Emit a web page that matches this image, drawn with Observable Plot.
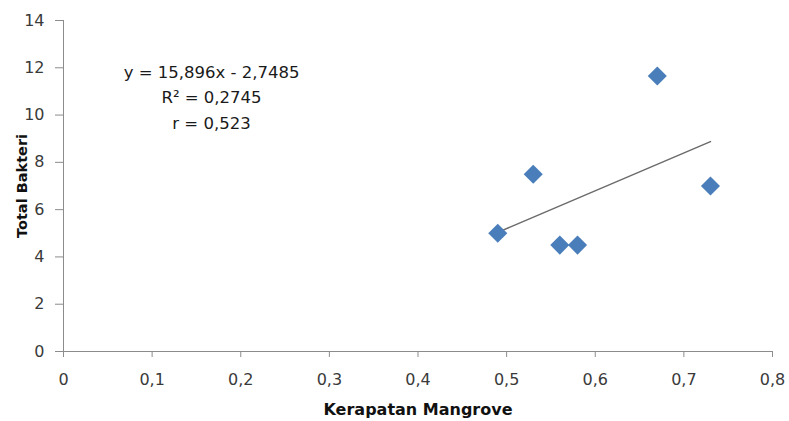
<!DOCTYPE html>
<html><head><meta charset="utf-8">
<script src="https://cdn.jsdelivr.net/npm/d3@7"></script>
<script src="https://cdn.jsdelivr.net/npm/@observablehq/plot@0.6"></script>
<style>
body{margin:0;background:#fff;}
#chart svg{display:block;}
</style>
</head><body><div id="chart"></div>
<script>
const kerapatan = [0.49, 0.53, 0.56, 0.58, 0.67, 0.73];
const totalBakteri = [5.0, 7.5, 4.5, 4.5, 11.65, 7.0];
const xTicks = [0, 0.1, 0.2, 0.3, 0.4, 0.5, 0.6, 0.7, 0.8];
const xTickLabels = ["0", "0,1", "0,2", "0,3", "0,4", "0,5", "0,6", "0,7", "0,8"];
const yTicks = [0, 2, 4, 6, 8, 10, 12, 14];
const yTickLabels = ["0", "2", "4", "6", "8", "10", "12", "14"];
const equationLines = ["y = 15,896x - 2,7485", "R² = 0,2745", "r = 0,523"];
const equationAt = {x: 0.167, y: 10.83};
const xTitle = "Kerapatan Mangrove";
const yTitle = "Total Bakteri";

const data = kerapatan.map((x, i) => ({x, y: totalBakteri[i]}));
const xFmt = d => xTickLabels[xTicks.indexOf(d)];
const yFmt = d => yTickLabels[yTicks.indexOf(d)];

const axisColor = "#8c8c8c";
const textColor = "#3a3a3a";
const font = "DejaVu Sans, sans-serif";

const chart = Plot.plot({
  width: 789,
  height: 421,
  marginLeft: 63,
  marginRight: 17,
  marginTop: 20,
  marginBottom: 70,
  style: {fontFamily: font, fontSize: "16px", color: textColor, background: "#fff"},
  x: {domain: [0, 0.8]},
  y: {domain: [0, 14]},
  marks: [
    Plot.axisX({ticks: xTicks, tickFormat: xFmt, tickSize: 6, tickPadding: 16, stroke: axisColor, fill: textColor, fontSize: 16, label: null}),
    Plot.axisY({ticks: yTicks, tickFormat: yFmt, tickSize: 8, tickPadding: 11, stroke: axisColor, fill: textColor, fontSize: 16, label: null}),
    Plot.ruleY([0], {stroke: axisColor, strokeWidth: 1}),
    Plot.ruleX([0], {stroke: axisColor, strokeWidth: 1}),
    Plot.linearRegressionY(data, {x: "x", y: "y", stroke: "#6b6b6b", strokeWidth: 1.5, ci: 0}),
    Plot.dot(data, {x: "x", y: "y", symbol: "diamond2", r: 8.6, fill: "#4a7ebb", stroke: "none"}),
    Plot.text([equationLines.join("\n")], {x: () => equationAt.x, y: () => equationAt.y, fontSize: 16.5, lineHeight: 1.52, fill: "#1a1a1a", textAnchor: "middle"}),
    Plot.text([xTitle], {frameAnchor: "bottom", dy: 58, textAnchor: "middle", lineAnchor: "middle", fontSize: 16, fontWeight: "bold", fill: "#111"}),
    Plot.text([yTitle], {frameAnchor: "left", dx: -41.5, rotate: -90, textAnchor: "middle", lineAnchor: "middle", fontSize: 14.5, fontWeight: "bold", fill: "#111"})
  ]
});
document.getElementById("chart").appendChild(chart);
</script>
</body></html>
